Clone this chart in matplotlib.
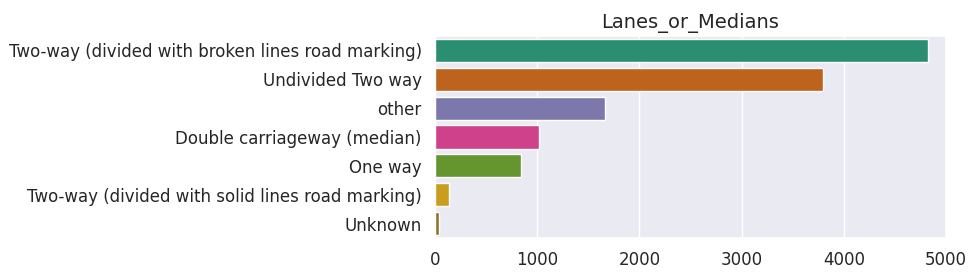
import matplotlib
matplotlib.use("Agg")
import matplotlib.pyplot as plt
import seaborn as sns
import pandas as pd

sns.set_theme(style="darkgrid")

# category counts
categories = [
    "Two-way (divided with broken lines road marking)",
    "Undivided Two way",
    "other",
    "Double carriageway (median)",
    "One way",
    "Two-way (divided with solid lines road marking)",
    "Unknown",
]
counts = [4820, 3796, 1660, 1020, 845, 135, 40]

df = pd.DataFrame({"Lanes_or_Medians": categories, "count": counts})

fig = plt.figure(figsize=(9.8, 2.78), dpi=100)
ax = fig.add_axes([435 / 980, 40 / 278, 511 / 980, 202 / 278])
sns.barplot(data=df, y="Lanes_or_Medians", x="count", hue="Lanes_or_Medians",
            palette="Dark2", legend=False, ax=ax)

ax.set_xlim(0, 5000)
ax.set_xticks([0, 1000, 2000, 3000, 4000, 5000])
ax.set_title("Lanes_or_Medians", fontsize=14)
ax.set_xlabel("")
ax.set_ylabel("")
ax.tick_params(axis="both", labelsize=12)

fig.savefig("out.png", dpi=100)
